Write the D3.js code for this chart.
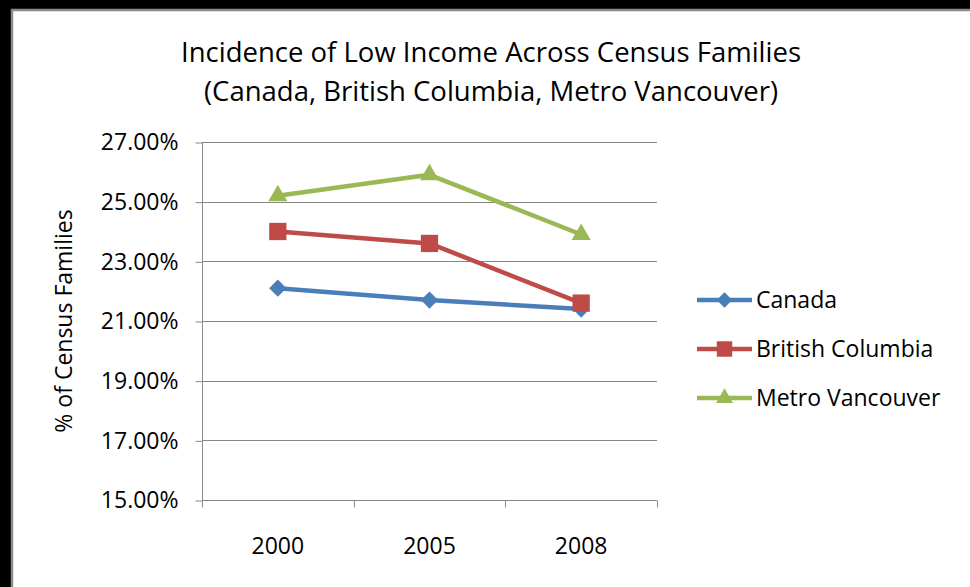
<!DOCTYPE html>
<html>
<head>
<meta charset="utf-8">
<script src="https://cdn.jsdelivr.net/npm/d3@7"></script>
<style>
  body { margin: 0; background: #000; }
  svg { display: block; }
  text { font-family: 'Open Sans', sans-serif; fill: #000; }
</style>
</head>
<body>
<div id="chart"></div>
<script>
const years = ['2000', '2005', '2008'];
const canada = [22.1, 21.7, 21.4];
const britishColumbia = [24.0, 23.6, 21.6];
const metroVancouver = [25.2, 25.9, 23.9];
const yTicks = [15, 17, 19, 21, 23, 25, 27];
const seriesNames = ['Canada', 'British Columbia', 'Metro Vancouver'];

const series = [
    { name: seriesNames[0], values: canada, color: '#4A7EBB', marker: d3.symbolDiamond2, size: 190 },
    { name: seriesNames[1], values: britishColumbia, color: '#BE4B48', marker: d3.symbolSquare2, size: 380 },
    { name: seriesNames[2], values: metroVancouver, color: '#98B954', marker: d3.symbolTriangle2, size: 260 }
];

const width = 970;
const height = 587;
const plot = { left: 202, right: 657, top: 142, bottom: 500 };

const svg = d3.select('#chart')
    .append('svg')
    .attr('width', width)
    .attr('height', height);

// black outer frame and white chart area
svg.append('rect')
    .attr('x', 0).attr('y', 0)
    .attr('width', width).attr('height', height)
    .attr('fill', '#000');
svg.append('rect')
    .attr('x', 11).attr('y', 9)
    .attr('width', width - 11).attr('height', height - 9)
    .attr('fill', '#fff');
svg.append('path')
    .attr('d', 'M12,' + height + 'V10H' + width)
    .attr('fill', 'none')
    .attr('stroke', '#8c8c8c')
    .attr('stroke-width', 2.5);

const xScale = d3.scaleBand()
    .domain(years)
    .range([plot.left, plot.right]);

const yScale = d3.scaleLinear()
    .domain([15, 27])
    .range([plot.bottom, plot.top]);

// gridlines
svg.append('g')
    .selectAll('line')
    .data(yTicks)
    .enter()
    .append('line')
    .attr('x1', plot.left)
    .attr('x2', plot.right)
    .attr('y1', (d) => Math.round(yScale(d)) + 0.5)
    .attr('y2', (d) => Math.round(yScale(d)) + 0.5)
    .attr('stroke', '#878787')
    .attr('stroke-width', 1);

const yAxis = d3.axisLeft(yScale)
    .tickValues(yTicks)
    .tickSize(7)
    .tickPadding(17)
    .tickFormat((d) => d3.format('.2f')(d) + '%');

const yG = svg.append('g')
    .attr('transform', 'translate(' + (plot.left + 0.5) + ',0.5)')
    .call(yAxis);
yG.selectAll('path, line').attr('stroke', '#878787');
yG.select('.domain').attr('d', 'M0,' + (plot.top - 0.5) + 'V' + (plot.bottom - 0.5));
yG.selectAll('text')
    .style('font-size', '23px')
    .style('font-family', "'Open Sans', sans-serif")
    .attr('fill', '#000');

// x axis with ticks between categories
const xAxis = d3.axisBottom(xScale)
    .tickSize(0)
    .tickPadding(37);

const xG = svg.append('g')
    .attr('transform', 'translate(0,' + (plot.bottom + 0.5) + ')')
    .call(xAxis);
xG.select('.domain').attr('stroke', '#878787').attr('d', 'M' + plot.left + ',0H' + plot.right);
xG.selectAll('text')
    .style('font-size', '23px')
    .style('font-family', "'Open Sans', sans-serif")
    .attr('fill', '#000');
xG.selectAll('.sep')
    .data(years.map((y) => xScale(y)).concat([plot.right]))
    .enter()
    .append('line')
    .attr('class', 'sep')
    .attr('x1', (d) => Math.round(d) + 0.5)
    .attr('x2', (d) => Math.round(d) + 0.5)
    .attr('y1', 0)
    .attr('y2', 7)
    .attr('stroke', '#878787');

// y axis title
svg.append('text')
    .attr('transform', 'translate(72,' + ((plot.top + plot.bottom) / 2) + ') rotate(-90)')
    .attr('text-anchor', 'middle')
    .style('font-size', '23px')
    .text('% of Census Families');

// title
const title = svg.append('text')
    .attr('x', 491)
    .attr('text-anchor', 'middle')
    .style('font-size', '27.5px');
title.append('tspan').attr('x', 491).attr('y', 62).text('Incidence of Low Income Across Census Families');
title.append('tspan').attr('x', 491).attr('y', 101).text('(Canada, British Columbia, Metro Vancouver)');

// lines and markers
const line = d3.line()
    .x((d, i) => xScale(years[i]) + xScale.bandwidth() / 2)
    .y((d) => yScale(d));

series.forEach((s) => {
    svg.append('path')
        .datum(s.values)
        .attr('d', line)
        .attr('fill', 'none')
        .attr('stroke', s.color)
        .attr('stroke-width', 4.5)
        .attr('stroke-linejoin', 'round');

    svg.selectAll('.m-' + s.name.replace(/ /g, ''))
        .data(s.values)
        .enter()
        .append('path')
        .attr('d', d3.symbol().type(s.marker).size(s.size))
        .attr('transform', (d, i) => 'translate(' + (xScale(years[i]) + xScale.bandwidth() / 2) + ',' + yScale(d) + ')')
        .attr('fill', s.color);
});

// legend
const legend = svg.append('g')
    .attr('transform', 'translate(697,300)');

const rows = legend.selectAll('g')
    .data(series)
    .enter()
    .append('g')
    .attr('transform', (d, i) => 'translate(0,' + (i * 49) + ')');

rows.append('line')
    .attr('x1', 0).attr('x2', 55)
    .attr('y1', 0).attr('y2', 0)
    .attr('stroke', (d) => d.color)
    .attr('stroke-width', 4.5);

rows.append('path')
    .attr('d', (d) => d3.symbol().type(d.marker).size(d.size * 0.8)())
    .attr('transform', 'translate(27.5,0)')
    .attr('fill', (d) => d.color);

rows.append('text')
    .attr('x', 59)
    .attr('dy', '0.35em')
    .style('font-size', '23px')
    .text((d) => d.name);
</script>
</body>
</html>
